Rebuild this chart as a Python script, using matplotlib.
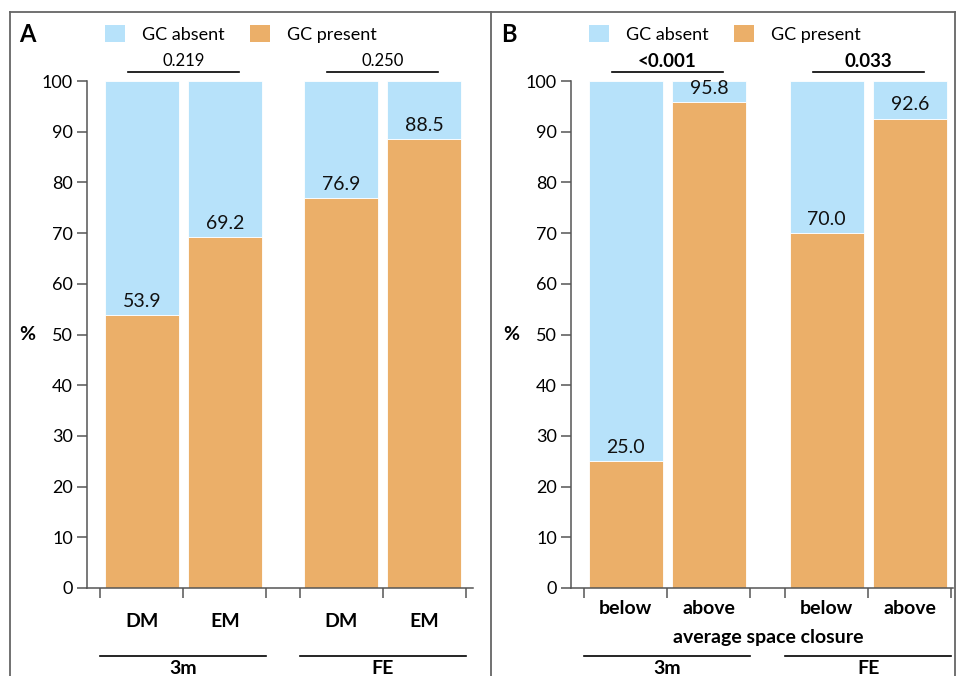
import matplotlib as mpl
import matplotlib.pyplot as plt
from matplotlib.patches import Patch
from matplotlib.lines import Line2D
from matplotlib.transforms import blended_transform_factory

mpl.use('Agg')

plt.rcParams['font.family'] = ['Lato', 'DejaVu Sans']

# data
groups = ['3m', 'FE']
labels_a = ['DM', 'EM', 'DM', 'EM']
present_a = [53.9, 69.2, 76.9, 88.5]
pvals_a = ['0.219', '0.250']

labels_b = ['below', 'above', 'below', 'above']
present_b = [25.0, 95.8, 70.0, 92.6]
pvals_b = ['<0.001', '0.033']

BLUE = '#B7E2FA'
ORANGE = '#EBAF69'
AXCOL = '#555555'

W, H = 958, 676
fig = plt.figure(figsize=(W / 100, H / 100), dpi=100)


def fx(px):
    return px / W


def fy(py):
    return 1 - py / H


def draw_panel(ax, labels, present, pvals, gap, bold_p, cat_y, xlim):
    pos = [0, 1, 1 + gap, 2 + gap]
    absent = [100 - v for v in present]
    ax.bar(pos, present, width=0.89, color=ORANGE, edgecolor='white', linewidth=0.6)
    ax.bar(pos, absent, bottom=present, width=0.89, color=BLUE, edgecolor='white', linewidth=0.6)
    for x, v in zip(pos, present):
        ax.text(x, v + 1.0, f'{v:.1f}', ha='center', va='bottom', fontsize=14, color='#111111')
    ax.set_ylim(0, 100)
    ax.set_xlim(*xlim)
    ax.set_yticks(range(0, 101, 10))
    edges = [-0.5, 0.5, 1.5, 0.5 + gap, 1.5 + gap, 2.5 + gap]
    ax.set_xticks(edges)
    ax.set_xticklabels([])
    ax.tick_params(axis='both', direction='out', length=7, width=1.1, color=AXCOL, labelsize=13)
    ax.tick_params(axis='y', pad=3)
    for s in ['top', 'right']:
        ax.spines[s].set_visible(False)
    for s in ['left', 'bottom']:
        ax.spines[s].set_color(AXCOL)
        ax.spines[s].set_linewidth(1.1)
    ax.spines['left'].set_bounds(0, 100)

    tr = blended_transform_factory(ax.transData, ax.transAxes)
    for x, lab in zip(pos, labels):
        ax.text(x, cat_y, lab, transform=tr, ha='center', va='center',
                fontsize=14, fontweight='bold')
    for i, g in enumerate(groups):
        c = 0.5 + i * (1 + gap)
        ax.add_line(Line2D([c - 1, c + 1], [-0.134, -0.134], transform=tr,
                           color='black', lw=1.2, clip_on=False))
        ax.text(c, -0.158, g, transform=tr, ha='center', va='center',
                fontsize=14, fontweight='bold')
        ax.add_line(Line2D([c - 0.67, c + 0.67], [101.8, 101.8], color='black',
                           lw=1.2, clip_on=False))
        if bold_p:
            ax.text(c, 102.2, pvals[i], ha='center', va='bottom', fontsize=13.5,
                    fontweight='bold')
        else:
            ax.text(c, 102.3, pvals[i], ha='center', va='bottom', fontsize=12)
    return tr


ax_a = fig.add_axes([fx(87), fy(588), fx(473 - 87), 507 / H])
draw_panel(ax_a, labels_a, present_a, pvals_a, 1.4, False, -0.067, (-0.66, 3.99))

ax_b = fig.add_axes([fx(571), fy(588), fx(953 - 571), 507 / H])
tr_b = draw_panel(ax_b, labels_b, present_b, pvals_b, 1.42, True, -0.041, (-0.66, 3.94))
ax_b.text(1.71, -0.097, 'average space closure', transform=tr_b, ha='center',
          va='center', fontsize=14, fontweight='bold')

handles = [Patch(facecolor=BLUE, edgecolor='none', label='GC absent'),
           Patch(facecolor=ORANGE, edgecolor='none', label='GC present')]
for x0 in (105, 589):
    fig.legend(handles=handles, ncol=2, loc='center left', frameon=False,
               bbox_to_anchor=(fx(x0), fy(34)), borderpad=0, borderaxespad=0,
               handlelength=1.1, handleheight=1.1, handletextpad=0.95,
               columnspacing=1.4, fontsize=13)

fig.text(fx(27), fy(35), 'A', fontsize=17, fontweight='bold', ha='center', va='center')
fig.text(fx(509), fy(35), 'B', fontsize=17, fontweight='bold', ha='center', va='center')
fig.text(fx(27), fy(335), '%', fontsize=14, fontweight='bold', ha='center', va='center')
fig.text(fx(511), fy(335), '%', fontsize=14, fontweight='bold', ha='center', va='center')

# frame around the figure and divider between panels
for xs, ys in [((10, 955), (12, 12)), ((10, 10), (12, 676)), ((955, 955), (12, 676)),
               ((491, 491), (12, 676))]:
    fig.add_artist(Line2D([fx(x) for x in xs], [fy(y) for y in ys], color='#666666', lw=1.3))

fig.savefig('out.png', dpi=100)
